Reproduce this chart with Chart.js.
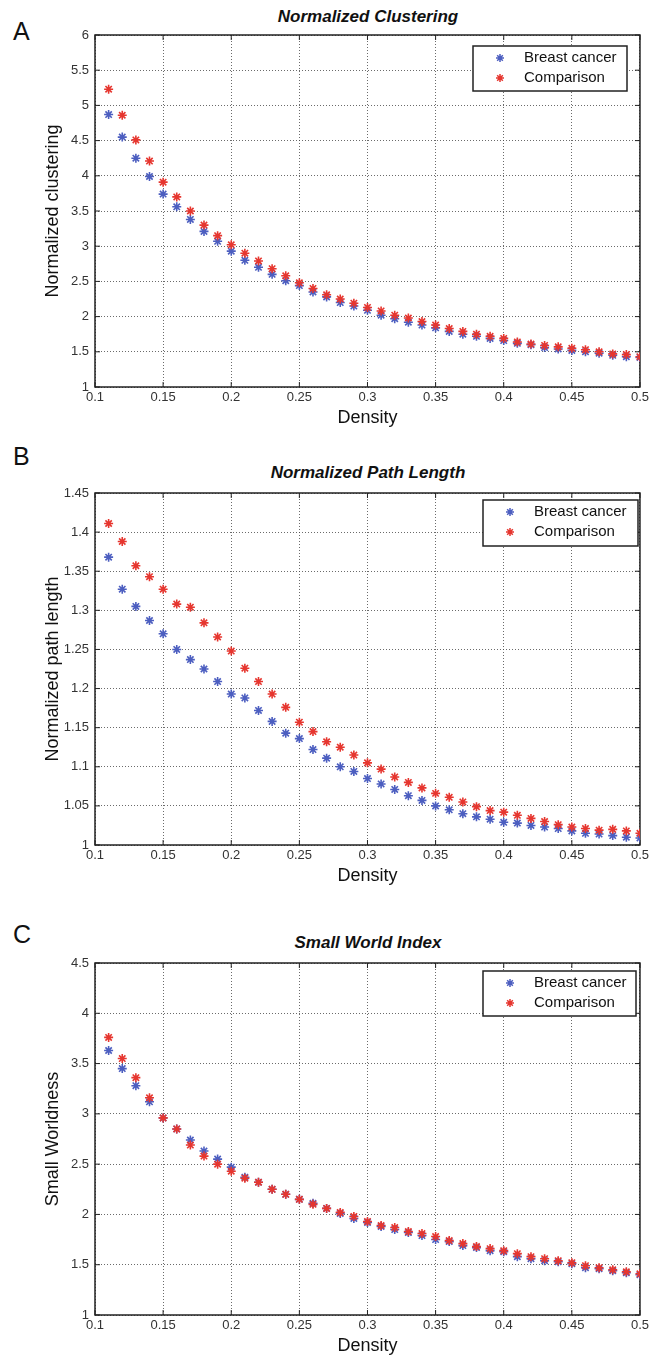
<!DOCTYPE html>
<html>
<head>
<meta charset="utf-8">
<script src="https://cdn.jsdelivr.net/npm/chart.js@4.4.1/dist/chart.umd.min.js"></script>
<style>
  body { margin: 0; background: #fff; }
  #page { position: relative; width: 652px; height: 1355px; overflow: hidden;
          font-family: "Liberation Sans", Arial, sans-serif; color: #111; }
  canvas.panel { position: absolute; left: 0; }
  .letter { position: absolute; left: 13px; font-size: 25px; line-height: 30px; }
  .ttl { position: absolute; left: 95px; width: 546px; text-align: center;
         font-weight: bold; font-style: italic; font-size: 17px; line-height: 20px; }
</style>
</head>
<body>
<div id="page">
  <div class="letter" style="top:16px">A</div>
  <div class="ttl" style="top:7px">Normalized Clustering</div>
  <canvas id="chartA" class="panel" width="652" height="430" style="top:0px"></canvas>

  <div class="letter" style="top:441px">B</div>
  <div class="ttl" style="top:463px">Normalized Path Length</div>
  <canvas id="chartB" class="panel" width="652" height="430" style="top:458px"></canvas>

  <div class="letter" style="top:919px">C</div>
  <div class="ttl" style="top:933px">Small World Index</div>
  <canvas id="chartC" class="panel" width="652" height="430" style="top:928px"></canvas>
</div>

<script>
/* ---------- DATA ---------- */
const DENSITY = [
  0.11, 0.12, 0.13, 0.14, 0.15, 0.16, 0.17, 0.18, 0.19, 0.20,
  0.21, 0.22, 0.23, 0.24, 0.25, 0.26, 0.27, 0.28, 0.29, 0.30,
  0.31, 0.32, 0.33, 0.34, 0.35, 0.36, 0.37, 0.38, 0.39, 0.40,
  0.41, 0.42, 0.43, 0.44, 0.45, 0.46, 0.47, 0.48, 0.49, 0.50
];
const X_TICKS = [0.1, 0.15, 0.2, 0.25, 0.3, 0.35, 0.4, 0.45, 0.5];

const SERIES_NAMES = ["Breast cancer", "Comparison"];

// A - normalized clustering
const CLUST_BREAST = [
  4.87, 4.55, 4.25, 3.99, 3.74, 3.56, 3.38, 3.21, 3.07, 2.93,
  2.80, 2.70, 2.60, 2.51, 2.44, 2.35, 2.28, 2.20, 2.15, 2.09,
  2.02, 1.97, 1.92, 1.88, 1.84, 1.79, 1.75, 1.72, 1.69, 1.66,
  1.62, 1.60, 1.56, 1.54, 1.52, 1.50, 1.48, 1.45, 1.43, 1.42
];
const CLUST_COMP = [
  5.23, 4.86, 4.51, 4.21, 3.91, 3.70, 3.50, 3.30, 3.15, 3.02,
  2.90, 2.79, 2.68, 2.58, 2.48, 2.40, 2.31, 2.25, 2.19, 2.13,
  2.08, 2.02, 1.98, 1.93, 1.88, 1.83, 1.79, 1.75, 1.72, 1.69,
  1.64, 1.61, 1.59, 1.57, 1.55, 1.53, 1.50, 1.47, 1.46, 1.43
];
const CLUST_TICKS = [1, 1.5, 2, 2.5, 3, 3.5, 4, 4.5, 5, 5.5, 6];

// B - normalized path length
const PATH_BREAST = [
  1.368, 1.327, 1.305, 1.287, 1.270, 1.250, 1.237, 1.225, 1.209, 1.193,
  1.188, 1.172, 1.158, 1.143, 1.136, 1.122, 1.111, 1.100, 1.094, 1.085,
  1.078, 1.071, 1.063, 1.057, 1.050, 1.045, 1.040, 1.036, 1.033, 1.029,
  1.028, 1.025, 1.023, 1.021, 1.018, 1.015, 1.014, 1.012, 1.010, 1.009
];
const PATH_COMP = [
  1.411, 1.388, 1.357, 1.343, 1.327, 1.308, 1.304, 1.284, 1.266, 1.248,
  1.226, 1.209, 1.193, 1.176, 1.157, 1.145, 1.132, 1.125, 1.115, 1.105,
  1.097, 1.087, 1.080, 1.073, 1.066, 1.061, 1.055, 1.049, 1.044, 1.042,
  1.038, 1.034, 1.030, 1.026, 1.023, 1.021, 1.019, 1.020, 1.018, 1.015
];
const PATH_TICKS = [1, 1.05, 1.1, 1.15, 1.2, 1.25, 1.3, 1.35, 1.4, 1.45];

// C - small world index
const SW_BREAST = [
  3.63, 3.45, 3.28, 3.12, 2.96, 2.85, 2.74, 2.63, 2.55, 2.47,
  2.37, 2.32, 2.25, 2.20, 2.15, 2.11, 2.06, 2.01, 1.96, 1.92,
  1.88, 1.85, 1.82, 1.79, 1.75, 1.73, 1.69, 1.67, 1.64, 1.63,
  1.58, 1.56, 1.54, 1.53, 1.51, 1.47, 1.46, 1.44, 1.42, 1.40
];
const SW_COMP = [
  3.76, 3.55, 3.36, 3.16, 2.96, 2.85, 2.69, 2.58, 2.50, 2.43,
  2.36, 2.32, 2.25, 2.20, 2.15, 2.10, 2.06, 2.02, 1.98, 1.93,
  1.89, 1.87, 1.83, 1.81, 1.78, 1.74, 1.71, 1.68, 1.66, 1.64,
  1.61, 1.58, 1.56, 1.54, 1.52, 1.49, 1.47, 1.45, 1.43, 1.41
];
const SW_TICKS = [1, 1.5, 2, 2.5, 3, 3.5, 4, 4.5];

/* ---------- STYLE ---------- */
const BLUE = "#4c5ec0";
const RED = "#e6362f";
const TICK_FONT = { family: "'Liberation Sans Narrow', 'Liberation Sans', Arial", size: 13 };
const LABEL_FONT = { family: "'Liberation Sans', Arial", size: 18 };

/* box round the plot area with inward ticks, matlab style */
const framePlugin = {
    id: "frame",
    beforeDatasetsDraw(chart) {
        const { ctx, chartArea: a, scales } = chart;
        ctx.save();
        ctx.strokeStyle = "#222";
        ctx.lineWidth = 1.5;
        ctx.strokeRect(a.left, a.top, a.right - a.left, a.bottom - a.top);
        ctx.lineWidth = 1;
        ctx.beginPath();
        scales.x.ticks.forEach(t => {
            const px = scales.x.getPixelForValue(t.value);
            ctx.moveTo(px, a.bottom); ctx.lineTo(px, a.bottom - 5);
            ctx.moveTo(px, a.top); ctx.lineTo(px, a.top + 5);
        });
        scales.y.ticks.forEach(t => {
            const py = scales.y.getPixelForValue(t.value);
            ctx.moveTo(a.left, py); ctx.lineTo(a.left + 5, py);
            ctx.moveTo(a.right, py); ctx.lineTo(a.right - 5, py);
        });
        ctx.stroke();
        ctx.restore();
    }
};

/* legend box inside the plot */
const boxLegend = {
    id: "boxLegend",
    afterDatasetsDraw(chart, args, opts) {
        const { ctx } = chart;
        const { x, y, w, h } = opts;
        ctx.save();
        ctx.fillStyle = "#fff";
        ctx.fillRect(x, y, w, h);
        ctx.strokeStyle = "#222";
        ctx.lineWidth = 1.5;
        ctx.strokeRect(x, y, w, h);
        ctx.font = "15px 'Liberation Sans', Arial";
        ctx.textBaseline = "middle";
        ctx.fillStyle = "#111";
        SERIES_NAMES.forEach((name, i) => {
            const ds = chart.data.datasets.find(d => d.label === name);
            const cy = y + 12 + i * 20;
            ctx.strokeStyle = ds.borderColor;
            ctx.lineWidth = 1.5;
            Chart.helpers.drawPoint(ctx, { pointStyle: "star", radius: 4, borderWidth: 1.5 }, x + 27, cy);
            ctx.fillText(name, x + 51, cy);
        });
        ctx.restore();
    }
};

function makePanel(id, breast, comp, yTicks, yTitle, legendBox) {
    const pts = arr => arr.map((v, i) => ({ x: DENSITY[i], y: v }));
    new Chart(document.getElementById(id), {
        type: "scatter",
        data: {
            datasets: [
                { label: SERIES_NAMES[0], data: pts(breast), borderColor: BLUE, backgroundColor: BLUE, order: 1 },
                { label: SERIES_NAMES[1], data: pts(comp), borderColor: RED, backgroundColor: RED, order: 0 }
            ]
        },
        options: {
            responsive: false,
            animation: false,
            layout: { padding: { top: 35, right: 11, left: 0, bottom: 0 } },
            elements: { point: { pointStyle: "star", radius: 4.5, borderWidth: 1.6, hoverRadius: 4.5 } },
            scales: {
                x: {
                    type: "linear",
                    min: X_TICKS[0],
                    max: X_TICKS[X_TICKS.length - 1],
                    afterBuildTicks: s => { s.ticks = X_TICKS.map(v => ({ value: v })); },
                    afterFit: s => { s.height = 43; },
                    grid: { color: "rgba(70,70,70,0.8)", drawTicks: false },
                    border: { display: false, dash: [1, 2] },
                    ticks: { autoSkip: false, maxRotation: 0, padding: 3, color: "#333", font: TICK_FONT,
                             callback: v => String(v) },
                    title: { display: true, text: "Density", color: "#111", font: LABEL_FONT, padding: { bottom: 1 } }
                },
                y: {
                    type: "linear",
                    min: yTicks[0],
                    max: yTicks[yTicks.length - 1],
                    afterBuildTicks: s => { s.ticks = yTicks.map(v => ({ value: v })); },
                    afterFit: s => { s.width = 95; },
                    grid: { color: "rgba(70,70,70,0.8)", drawTicks: false },
                    border: { display: false, dash: [1, 2] },
                    ticks: { padding: 6, color: "#333", font: TICK_FONT, callback: v => String(v) },
                    title: { display: true, text: yTitle, color: "#111", font: LABEL_FONT, padding: { top: 42 } }
                }
            },
            plugins: {
                legend: { display: false },
                tooltip: { enabled: false },
                boxLegend: legendBox
            }
        },
        plugins: [framePlugin, boxLegend]
    });
}

makePanel("chartA", CLUST_BREAST, CLUST_COMP, CLUST_TICKS, "Normalized clustering", { x: 473, y: 46, w: 154, h: 45 });
makePanel("chartB", PATH_BREAST, PATH_COMP, PATH_TICKS, "Normalized path length", { x: 483, y: 42, w: 155, h: 46 });
makePanel("chartC", SW_BREAST, SW_COMP, SW_TICKS, "Small Worldness", { x: 483, y: 43, w: 153, h: 45 });
</script>
</body>
</html>
